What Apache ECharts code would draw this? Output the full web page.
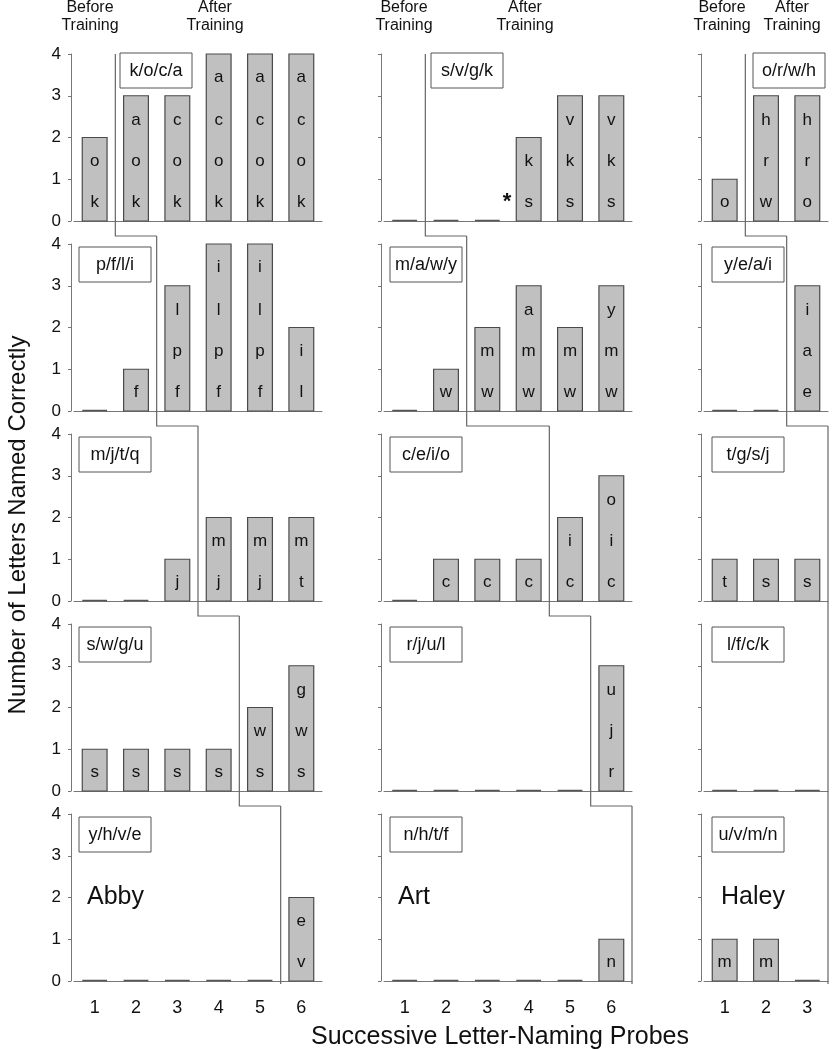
<!DOCTYPE html>
<html><head><meta charset="utf-8">
<script src="https://cdn.jsdelivr.net/npm/echarts@6/dist/echarts.min.js"></script>
<style>html,body{margin:0;padding:0;background:#fff}#c{width:832px;height:1050px}</style>
</head><body><div id="c"></div>
<script>
const probes6 = ['1','2','3','4','5','6'];
const probes3 = ['1','2','3'];
const participants = ['Abby','Art','Haley'];
const yTicks = [0,1,2,3,4];
const letterSets = [
  ['k/o/c/a','p/f/l/i','m/j/t/q','s/w/g/u','y/h/v/e'],
  ['s/v/g/k','m/a/w/y','c/e/i/o','r/j/u/l','n/h/t/f'],
  ['o/r/w/h','y/e/a/i','t/g/s/j','l/f/c/k','u/v/m/n']
];
const abbyCounts = [[2,3,3,4,4,4],[0,1,3,4,4,2],[0,0,1,2,2,2],[1,1,1,1,2,3],[0,0,0,0,0,2]];
const abbyLetters = [['ko','koa','koc','koca','koca','koca'],['','f','fpl','fpli','fpli','li'],['','','j','jm','jm','tm'],['s','s','s','s','sw','swg'],['','','','','','ve']];
const artCounts = [[0,0,0,2,3,3],[0,1,2,3,2,3],[0,1,1,1,2,3],[0,0,0,0,0,3],[0,0,0,0,0,1]];
const artLetters = [['','','','sk','skv','skv'],['','w','wm','wma','wm','wmy'],['','c','c','c','ci','cio'],['','','','','','rju'],['','','','','','n']];
const haleyCounts = [[1,3,3],[0,0,3],[1,1,1],[0,0,0],[1,1,0]];
const haleyLetters = [['o','wrh','orh'],['','','eai'],['t','s','s'],['','',''],['m','m','']];
// phase-change line position (between probes) for each row
const abbyPhase = [1.5,2.5,3.5,4.5,5.5];
const artPhase = [1.5,2.5,4.5,5.5,6.5];
const haleyPhase = [1.5,2.5,3.5,3.5,3.5];

const FONT = "'Liberation Sans', Arial, sans-serif";
const cols = [
  {cats: probes6, counts: abbyCounts, letters: abbyLetters, phase: abbyPhase, left: 74, width: 248},
  {cats: probes6, counts: artCounts, letters: artLetters, phase: artPhase, left: 384, width: 248},
  {cats: probes3, counts: haleyCounts, letters: haleyLetters, phase: haleyPhase, left: 704, width: 124}
];
const ROW_TOP = 54, ROW_STEP = 190, ROW_H = 167;
const slotY = [0.45, 1.42, 2.41, 3.45];

const grids = [], xAxes = [], yAxes = [], series = [], graphics = [];
let gi = 0;
cols.forEach((col, c) => {
  for (let r = 0; r < 5; r++) {
    const top = ROW_TOP + ROW_STEP * r;
    grids.push({left: col.left, width: col.width, top: top, height: ROW_H});
    xAxes.push({
      gridIndex: gi, type: 'category', data: col.cats, offset: 3,
      axisLine: {lineStyle: {color: '#777', width: 1}},
      axisTick: {alignWithLabel: true, length: 4, lineStyle: {color: '#777'}},
      axisLabel: {show: r === 4, fontSize: 18, color: '#111', margin: 15, fontFamily: FONT}
    });
    yAxes.push({
      gridIndex: gi, type: 'value', min: yTicks[0], max: yTicks[yTicks.length-1], interval: 1, offset: 3,
      axisLine: {show: true, lineStyle: {color: '#777', width: 1}},
      axisTick: {show: true, length: 3, lineStyle: {color: '#777'}},
      splitLine: {show: false},
      axisLabel: {show: c === 0, fontSize: 17, color: '#111', margin: 10, fontFamily: FONT}
    });
    const counts = col.counts[r], letters = col.letters[r];
    series.push({
      type: 'custom', xAxisIndex: gi, yAxisIndex: gi, z: 3,
      data: counts.map((v, i) => [i, v]),
      encode: {x: 0, y: 1},
      renderItem: function (params, api) {
        const idx = api.value(0), v = api.value(1);
        const base = api.coord([idx, 0]);
        const topP = api.coord([idx, v]);
        const bw = api.size([1, 0])[0] * 0.6;
        const children = [];
        if (v > 0) {
          children.push({type: 'rect', shape: {x: base[0] - bw/2, y: topP[1], width: bw, height: base[1] - topP[1]},
            style: {fill: '#c0c0c0', stroke: '#4a4a4a', lineWidth: 1.2}});
        } else {
          children.push({type: 'line', shape: {x1: base[0] - bw/2, y1: base[1] - 0.5, x2: base[0] + bw/2, y2: base[1] - 0.5},
            style: {stroke: '#555', lineWidth: 1.5}});
        }
        const ls = letters[params.dataIndex] || '';
        for (let k = 0; k < ls.length; k++) {
          const p = api.coord([idx, slotY[k]]);
          children.push({type: 'text', style: {text: ls[k], x: p[0], y: p[1], textAlign: 'center', textVerticalAlign: 'middle',
            fontSize: 17, fontFamily: FONT, fill: '#111'}});
        }
        return {type: 'group', children: children};
      }
    });
    // phase change line
    const b = col.phase[r], bNext = r < 4 ? col.phase[r+1] : null, isFirst = r === 0, isLast = r === 4;
    series.push({
      type: 'custom', xAxisIndex: gi, yAxisIndex: gi, z: 4, clip: false, silent: true,
      data: [[0, 0]], encode: {x: 0, y: 1},
      renderItem: function (params, api) {
        const bwFull = api.size([1, 0])[0];
        const xOf = (bb) => { const k = bb - 1, f = Math.floor(k); return api.coord([f, 0])[0] + (k - f) * bwFull; };
        const y0 = api.coord([0, 0])[1], y4 = api.coord([0, 4])[1];
        const x = xOf(b);
        const pts = [[x, isFirst ? y4 : y4 - 8]];
        if (isLast) { pts.push([x, y0 + 3]); }
        else { pts.push([x, y0 + 15]); pts.push([xOf(bNext), y0 + 15]); }
        return {type: 'polyline', shape: {points: pts}, style: {stroke: '#666', lineWidth: 1.2, fill: null}};
      }
    });
    // letter-set box
    let bx, by;
    if (r === 0) { bx = c === 2 ? 753 : (c === 0 ? 120 : 431); by = top - 1; }
    else { bx = col.left + (c === 0 ? 5 : (c === 1 ? 6 : 8)); by = top + 3; }
    graphics.push({type: 'group', x: bx, y: by, z: 10, children: [
      {type: 'rect', shape: {x: 0, y: 0, width: 72, height: 35}, style: {fill: '#fff', stroke: '#555', lineWidth: 1}},
      {type: 'text', style: {text: letterSets[c][r], x: 36, y: 18, textAlign: 'center', textVerticalAlign: 'middle', fontSize: 18, fontFamily: FONT, fill: '#111'}}
    ]});
    gi++;
  }
});

// participant names
const nameX = [87, 398, 721];
participants.forEach((n, c) => graphics.push({type: 'text', style: {text: n, x: nameX[c], y: 897, textVerticalAlign: 'middle', fontSize: 25, fontFamily: FONT, fill: '#111'}}));
// headers
const headers = [[90, 'Before\nTraining'], [215, 'After\nTraining'], [404, 'Before\nTraining'], [525, 'After\nTraining'], [722, 'Before\nTraining'], [792, 'After\nTraining']];
headers.forEach(h => graphics.push({type: 'text', style: {text: h[1], x: h[0], y: -1, textAlign: 'center', fontSize: 16, lineHeight: 18, fontFamily: FONT, fill: '#111'}}));
// asterisk
graphics.push({type: 'text', style: {text: '*', x: 507, y: 202, textAlign: 'center', textVerticalAlign: 'middle', fontSize: 22, fontWeight: 'bold', fontFamily: FONT, fill: '#111'}});
// axis titles
graphics.push({type: 'text', rotation: Math.PI/2, x: 18, y: 525, style: {text: 'Number of Letters Named Correctly', x: 0, y: 0, textAlign: 'center', textVerticalAlign: 'middle', fontSize: 24, fontFamily: FONT, fill: '#111'}});
graphics.push({type: 'text', style: {text: 'Successive Letter-Naming Probes', x: 500, y: 1037, textAlign: 'center', textVerticalAlign: 'middle', fontSize: 25, fontFamily: FONT, fill: '#111'}});

const chart = echarts.init(document.getElementById('c'));
chart.setOption({animation: false, grid: grids, xAxis: xAxes, yAxis: yAxes, series: series, graphic: graphics});
</script></body></html>
